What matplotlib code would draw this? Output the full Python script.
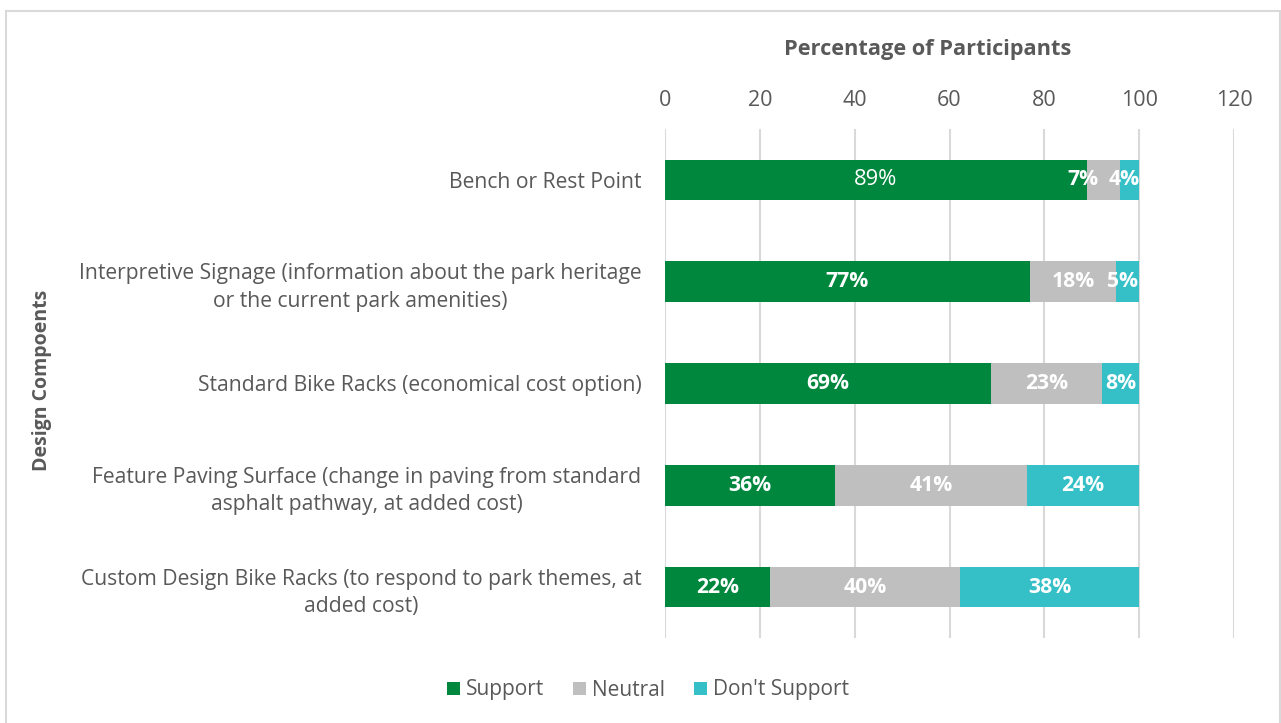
import matplotlib
matplotlib.use('Agg')
import matplotlib.pyplot as plt
from matplotlib.patches import Rectangle

plt.rcParams['font.family'] = ['Open Sans', 'DejaVu Sans']

# data (percent of participants)
categories = [
    'Bench or Rest Point',
    'Interpretive Signage (information about the park heritage\nor the current park amenities)',
    'Standard Bike Racks (economical cost option)',
    'Feature Paving Surface (change in paving from standard\nasphalt pathway, at added cost)',
    'Custom Design Bike Racks (to respond to park themes, at\nadded cost)',
]
support = [89.0, 76.9, 68.8, 35.8, 22.1]
neutral = [7.0, 18.3, 23.4, 40.6, 40.1]
dont_support = [4.0, 4.8, 7.8, 23.6, 37.8]
series_names = ['Support', 'Neutral', "Don't Support"]
xticks = [0, 20, 40, 60, 80, 100, 120]

# label nudges (data units) where the reference moved labels off centre
neutral_shift = [-4.4, 0, 0, 0, 0]
dont_shift = [-1.2, -1.2, 0, 0, 0]

colors = ['#00873E', '#BFBFBF', '#35BFC6']
text_col = '#595959'
grid_col = '#D9D9D9'

fig = plt.figure(figsize=(12.81, 7.23), dpi=100)
ax = fig.add_axes([665 / 1281, 1 - 638 / 723, 569 / 1281, 509 / 723])

y = list(range(len(categories)))
left2 = [s + n for s, n in zip(support, neutral)]
b1 = ax.barh(y, support, height=0.4, color=colors[0], label=series_names[0], zorder=3)
b2 = ax.barh(y, neutral, left=support, height=0.4, color=colors[1], label=series_names[1], zorder=3)
b3 = ax.barh(y, dont_support, left=left2, height=0.4, color=colors[2], label=series_names[2], zorder=3)

lbl_size = 15.2
for i in y:
    # support labels: first one is regular weight in the reference
    ax.text(support[i] / 2, i, f'{round(support[i])}%', ha='center', va='center',
            color='white', fontsize=lbl_size + (0.6 if i == 0 else 0),
            fontweight='normal' if i == 0 else 'bold', zorder=4)
    ax.text(support[i] + neutral[i] / 2 + neutral_shift[i], i, f'{round(neutral[i])}%',
            ha='center', va='center', color='white', fontsize=lbl_size, fontweight='bold', zorder=4)
    ax.text(left2[i] + dont_support[i] / 2 + dont_shift[i], i, f'{round(dont_support[i])}%',
            ha='center', va='center', color='white', fontsize=lbl_size, fontweight='bold', zorder=4)

ax.set_xlim(0, 120)
ax.set_ylim(len(categories) - 0.5, -0.5)
ax.set_xticks(xticks)
ax.xaxis.tick_top()
ax.tick_params(axis='x', length=0, pad=13, labelsize=15.5, labelcolor=text_col)
ax.set_yticks(y)
ax.set_yticklabels(categories, multialignment='center', linespacing=1.4)
ax.tick_params(axis='y', length=0, pad=17, labelsize=15.2, labelcolor=text_col)
ax.grid(axis='x', color=grid_col, linewidth=1.5, zorder=0)
ax.set_axisbelow(True)
for sp in ax.spines.values():
    sp.set_visible(False)

fig.text(928 / 1281, 1 - 50 / 723, 'Percentage of Participants', ha='center', va='center',
         fontsize=15.7, fontweight='bold', color=text_col)
fig.text(42 / 1281, 1 - 380 / 723, 'Design Compoents', ha='center', va='center',
         rotation=90, fontsize=14, fontweight='bold', color=text_col)

fig.legend(handles=[b1, b2, b3], loc='center', bbox_to_anchor=(648 / 1281, 1 - 690 / 723),
           ncol=3, frameon=False, fontsize=15, handlelength=0.6, handleheight=0.6,
           handletextpad=0.3, columnspacing=1.4, labelcolor=text_col)

# chart-area border
fig.patches.append(Rectangle((6 / 1281, -0.05), 1274 / 1281, 1.05 - 11 / 723,
                             transform=fig.transFigure, fill=False,
                             edgecolor=grid_col, linewidth=1.5))

plt.savefig('out.png', dpi=100)
